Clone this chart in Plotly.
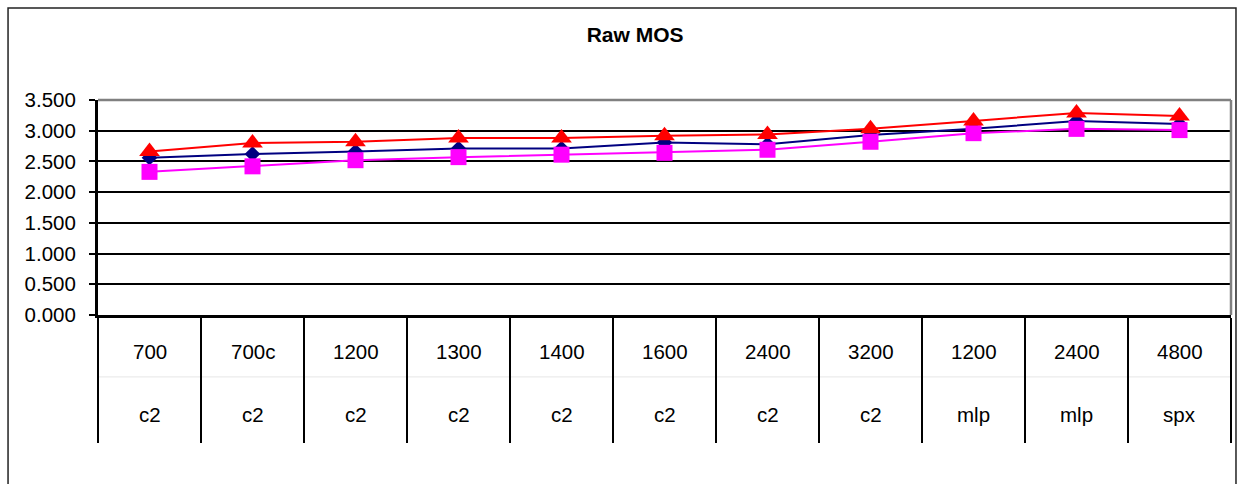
import plotly.graph_objects as go

# ---- data ----
rates = ["700", "700c", "1200", "1300", "1400", "1600", "2400", "3200", "1200", "2400", "4800"]
codecs = ["c2", "c2", "c2", "c2", "c2", "c2", "c2", "c2", "mlp", "mlp", "spx"]
red_vals = [2.66, 2.80, 2.82, 2.88, 2.88, 2.92, 2.94, 3.03, 3.16, 3.29, 3.24]
navy_vals = [2.56, 2.62, 2.66, 2.71, 2.71, 2.81, 2.78, 2.93, 3.03, 3.16, 3.11]
magenta_vals = [2.33, 2.42, 2.52, 2.57, 2.61, 2.64, 2.69, 2.82, 2.96, 3.03, 3.01]
y_ticks = [0, 0.5, 1.0, 1.5, 2.0, 2.5, 3.0, 3.5]

keys = [f"{r} {c}" for r, c in zip(rates, codecs)]
FONT = "Liberation Sans, Arial, sans-serif"

fig = go.Figure()
fig.add_trace(go.Scatter(x=keys, y=navy_vals, mode="lines+markers",
                         line=dict(color="#000080", width=2),
                         marker=dict(symbol="diamond", size=12, color="#000080")))
fig.add_trace(go.Scatter(x=keys, y=magenta_vals, mode="lines+markers",
                         line=dict(color="#FF00FF", width=2),
                         marker=dict(symbol="square", size=16, color="#FF00FF")))
fig.add_trace(go.Scatter(x=keys, y=red_vals, mode="lines+markers",
                         line=dict(color="#FF0000", width=2),
                         marker=dict(symbol="triangle-up", size=18, color="#FF0000")))

annotations = []
for k, r, c in zip(keys, rates, codecs):
    annotations.append(dict(x=k, xref="x", y=-0.172, yref="paper", text=r, showarrow=False,
                            yanchor="middle", font=dict(family=FONT, size=20.5, color="black")))
    annotations.append(dict(x=k, xref="x", y=-0.465, yref="paper", text=c, showarrow=False,
                            yanchor="middle", font=dict(family=FONT, size=20.5, color="black")))

shapes = [
    # outer chart border
    dict(type="rect", xref="paper", yref="paper", x0=-0.0794, x1=1.0044, y0=-0.85, y1=1.428,
         line=dict(color="#222222", width=1.5), layer="below"),
    # faint separator between label rows
    dict(type="line", xref="paper", yref="paper", x0=0, x1=1, y0=-0.288, y1=-0.288,
         line=dict(color="#e6e6e6", width=1), layer="below"),
    # gray top and right border of plot area
    dict(type="line", xref="paper", yref="paper", x0=0, x1=1, y0=1, y1=1,
         line=dict(color="#808080", width=2.5), layer="above"),
    dict(type="line", xref="paper", yref="paper", x0=1, x1=1, y0=0, y1=1,
         line=dict(color="#808080", width=2.5), layer="above"),
]

fig.update_layout(
    width=1238, height=484,
    margin=dict(l=98, r=7, t=100, b=169),
    paper_bgcolor="white", plot_bgcolor="white",
    showlegend=False, hovermode=False,
    title=dict(text="<b>Raw MOS</b>", x=0.513, xanchor="center", y=1 - 35 / 484, yanchor="middle",
               font=dict(family=FONT, size=21, color="black")),
    xaxis=dict(type="category", range=[-0.5, 10.5], showgrid=False,
               showline=True, linecolor="black", linewidth=3,
               ticks="outside", tickson="boundaries", ticklen=125, tickwidth=2, tickcolor="black",
               showticklabels=False, zeroline=False, fixedrange=True),
    yaxis=dict(range=[0, 3.5], tickvals=y_ticks, tickformat=".3f",
               showgrid=True, gridcolor="black", gridwidth=1.5,
               showline=True, linecolor="black", linewidth=3,
               ticks="outside", ticklen=6, tickwidth=1.5, tickcolor="black",
               ticklabelstandoff=9,
               tickfont=dict(family=FONT, size=20.5, color="black"),
               zeroline=False, fixedrange=True),
    annotations=annotations,
    shapes=shapes,
)

fig.write_html("out.html")
